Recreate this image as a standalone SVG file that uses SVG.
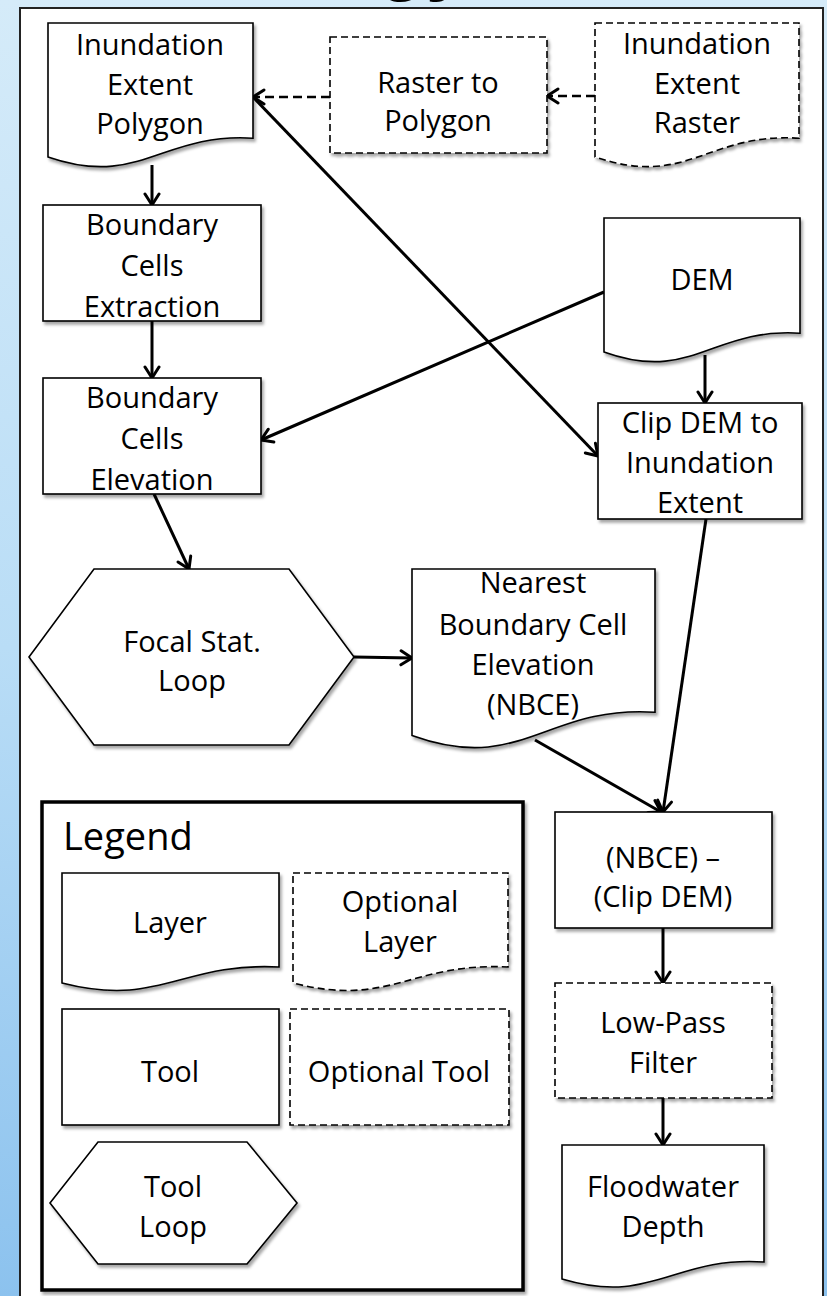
<svg xmlns="http://www.w3.org/2000/svg" width="827" height="1296" viewBox="0 0 827 1296">
<defs>
<linearGradient id="bg" x1="0" y1="0" x2="0" y2="1">
<stop offset="0" stop-color="#d5ebf9"/>
<stop offset="0.5" stop-color="#b9ddf6"/>
<stop offset="1" stop-color="#8cc2ee"/>
</linearGradient>
<filter id="sh" x="-10%" y="-10%" width="125%" height="125%">
<feDropShadow dx="2" dy="3" stdDeviation="1.6" flood-color="#000" flood-opacity="0.35"/>
</filter>
<marker id="arr" viewBox="-13 -9 16 18" markerWidth="16" markerHeight="18" refX="0" refY="0" orient="auto" markerUnits="userSpaceOnUse">
<path d="M-11,-7 L0,0 L-11,7" fill="none" stroke="#000" stroke-width="3" stroke-linejoin="round" stroke-linecap="round"/>
</marker>
</defs>
<style>
.node{fill:#fff;stroke:#000;stroke-width:1.6;filter:url(#sh)}
.opt{stroke-dasharray:7 4}
.t{font-family:"Open Sans","Noto Sans",sans-serif;font-size:29px;fill:#000;text-anchor:middle}
.conn{fill:none;stroke:#000;stroke-width:3;marker-end:url(#arr)}
.dconn{stroke-dasharray:9 5;stroke-width:2.6}
</style>
<rect x="0" y="0" width="827" height="1296" fill="url(#bg)"/>
<text x="378" y="-14" font-family="Liberation Sans, sans-serif" font-weight="bold" font-size="78" fill="#000">gy</text>
<rect x="20" y="8" width="803" height="1300" fill="#fff" stroke="#222" stroke-width="2"/>

<g id="connectors">
<line class="conn" x1="152" y1="165" x2="152" y2="205"/>
<line class="conn" x1="152" y1="321" x2="152" y2="378"/>
<line class="conn" x1="154" y1="494" x2="189" y2="569"/>
<line class="conn" x1="354" y1="657" x2="412" y2="658"/>
<line class="conn" x1="604" y1="292" x2="261" y2="440"/>
<line class="conn" x1="253" y1="97" x2="598" y2="456"/>
<line class="conn" x1="705" y1="355" x2="705" y2="403"/>
<line class="conn" x1="706" y1="519" x2="663" y2="812"/>
<line class="conn" x1="535" y1="740" x2="661" y2="812"/>
<line class="conn" x1="663" y1="928" x2="663" y2="983"/>
<line class="conn" x1="663" y1="1098" x2="663" y2="1145"/>
<line class="conn dconn" x1="595" y1="96" x2="547" y2="96"/>
<line class="conn dconn" x1="330" y1="97" x2="253" y2="97"/>
</g>

<g id="inundation-polygon">
<path class="node" d="M48,23 H253 V138.2 C161,132.4 140,188.6 48,156.9 Z"/>
<text class="t" x="150" y="55">Inundation</text>
<text class="t" x="150" y="95">Extent</text>
<text class="t" x="150" y="134">Polygon</text>
</g>

<g id="raster-to-polygon">
<rect class="node opt" x="330" y="37" width="217" height="116"/>
<text class="t" x="438" y="93">Raster to</text>
<text class="t" x="438" y="131">Polygon</text>
</g>

<g id="inundation-raster">
<path class="node opt" d="M595,23 H799 V138.2 C707,132.4 687,188.6 595,156.9 Z"/>
<text class="t" x="697" y="54">Inundation</text>
<text class="t" x="697" y="94">Extent</text>
<text class="t" x="697" y="133">Raster</text>
</g>

<g id="boundary-extraction">
<rect class="node" x="43" y="205" width="218" height="116"/>
<text class="t" x="152" y="235">Boundary</text>
<text class="t" x="152" y="276">Cells</text>
<text class="t" x="152" y="317">Extraction</text>
</g>

<g id="boundary-elevation">
<rect class="node" x="43" y="378" width="218" height="116"/>
<text class="t" x="152" y="408">Boundary</text>
<text class="t" x="152" y="449">Cells</text>
<text class="t" x="152" y="490">Elevation</text>
</g>

<g id="dem">
<path class="node" d="M604,218 H800 V333.2 C712,327.4 692,383.6 604,351.9 Z"/>
<text class="t" x="702" y="290">DEM</text>
</g>

<g id="clip-dem">
<rect class="node" x="598" y="403" width="204" height="116"/>
<text class="t" x="700" y="433">Clip DEM to</text>
<text class="t" x="700" y="473">Inundation</text>
<text class="t" x="700" y="513">Extent</text>
</g>

<g id="focal-stat">
<polygon class="node" points="29,657 94,569 289,569 354,657 289,745 94,745"/>
<text class="t" x="192" y="652">Focal Stat.</text>
<text class="t" x="192" y="691">Loop</text>
</g>

<g id="nbce">
<path class="node" d="M412,569 H655 V712.2 C546,705 521,774.9 412,735.5 Z"/>
<text class="t" x="533" y="593">Nearest</text>
<text class="t" x="533" y="635">Boundary Cell</text>
<text class="t" x="533" y="675">Elevation</text>
<text class="t" x="533" y="715">(NBCE)</text>
</g>

<g id="difference">
<rect class="node" x="555" y="812" width="217" height="116"/>
<text class="t" x="663" y="868">(NBCE) –</text>
<text class="t" x="663" y="907">(Clip DEM)</text>
</g>

<g id="low-pass">
<rect class="node opt" x="555" y="983" width="217" height="115"/>
<text class="t" x="663" y="1033">Low-Pass</text>
<text class="t" x="663" y="1073">Filter</text>
</g>

<g id="floodwater-depth">
<path class="node" d="M562,1145 H764 V1262 C673,1256 653,1306 562,1279 Z"/>
<text class="t" x="663" y="1197">Floodwater</text>
<text class="t" x="663" y="1237">Depth</text>
</g>

<g id="legend">
<rect x="42" y="802" width="481" height="488" fill="#fff" stroke="#000" stroke-width="3.5" filter="url(#sh)"/>
<text x="63" y="850" font-family="Open Sans, Noto Sans, sans-serif" font-size="38" fill="#000">Legend</text>
<path class="node" d="M62,873 H279 V967 C181,962 160,1008 62,983 Z"/>
<text class="t" x="170" y="933">Layer</text>
<path class="node opt" d="M293,873 H508 V967 C411,962 390,1008 293,983 Z"/>
<text class="t" x="400" y="912">Optional</text>
<text class="t" x="400" y="952">Layer</text>
<rect class="node" x="62" y="1009" width="217" height="116"/>
<text class="t" x="170" y="1082">Tool</text>
<rect class="node opt" x="290" y="1009" width="219" height="116"/>
<text class="t" x="399" y="1082">Optional Tool</text>
<polygon class="node" points="50,1203 98,1142 247,1142 297,1203 247,1264 98,1264"/>
<text class="t" x="173" y="1197">Tool</text>
<text class="t" x="173" y="1237">Loop</text>
</g>
</svg>
